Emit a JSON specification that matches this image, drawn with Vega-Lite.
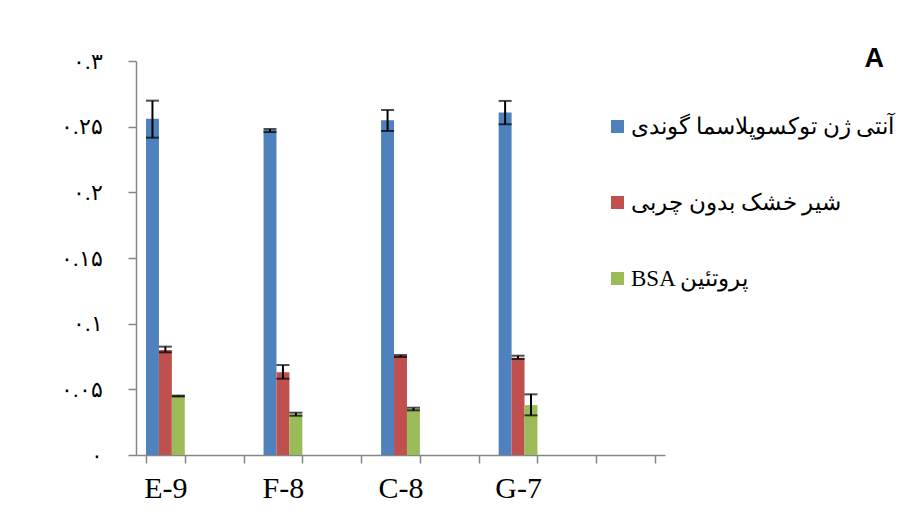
{
  "$schema": "https://vega.github.io/schema/vega-lite/v6.json",
  "width": 529,
  "height": 394,
  "autosize": {"type": "none"},
  "padding": {"left": 136, "top": 61, "right": 242, "bottom": 65},
  "background": "white",
  "title": {
    "text": "A",
    "anchor": "end",
    "frame": "group",
    "font": "Liberation Sans",
    "fontSize": 27,
    "fontWeight": "bold",
    "color": "black",
    "baseline": "alphabetic",
    "offset": 0,
    "dx": 219,
    "dy": 44
  },
  "config": {
    "view": {"stroke": null},
    "axis": {"grid": false, "domainColor": "#868686", "tickColor": "#868686", "labelColor": "black", "domainWidth": 1.5, "tickWidth": 1.5}
  },
  "data": {
    "values": [
      {"g": "E-9", "s": "آنتی ژن توکسوپلاسما گوندی", "v": 0.256, "lo": 0.2416, "hi": 0.2698},
      {"g": "E-9", "s": "شیر خشک بدون چربی", "v": 0.080, "lo": 0.0782, "hi": 0.0825},
      {"g": "E-9", "s": "BSA پروتئین", "v": 0.0449, "lo": 0.0446, "hi": 0.0452},
      {"g": "F-8", "s": "آنتی ژن توکسوپلاسما گوندی", "v": 0.2475, "lo": 0.2459, "hi": 0.2482},
      {"g": "F-8", "s": "شیر خشک بدون چربی", "v": 0.063, "lo": 0.0581, "hi": 0.0685},
      {"g": "F-8", "s": "BSA پروتئین", "v": 0.031, "lo": 0.0299, "hi": 0.0322},
      {"g": "C-8", "s": "آنتی ژن توکسوپلاسما گوندی", "v": 0.2548, "lo": 0.2467, "hi": 0.2627},
      {"g": "C-8", "s": "شیر خشک بدون چربی", "v": 0.0754, "lo": 0.0746, "hi": 0.0761},
      {"g": "C-8", "s": "BSA پروتئین", "v": 0.035, "lo": 0.034, "hi": 0.036},
      {"g": "G-7", "s": "آنتی ژن توکسوپلاسما گوندی", "v": 0.2607, "lo": 0.2518, "hi": 0.2696},
      {"g": "G-7", "s": "شیر خشک بدون چربی", "v": 0.0741, "lo": 0.0731, "hi": 0.0756},
      {"g": "G-7", "s": "BSA پروتئین", "v": 0.038, "lo": 0.0302, "hi": 0.0462}
    ]
  },
  "encoding": {
    "x": {
      "field": "g",
      "type": "nominal",
      "title": null,
      "scale": {"domain": ["E-9", " ", "F-8", "  ", "C-8", "   ", "G-7", "    ", "     "], "paddingInner": 0.34, "paddingOuter": 0.17},
      "axis": {"labelAngle": 0, "tickBand": "extent", "tickSize": 8, "labelFont": "Liberation Serif", "labelFontSize": 30, "labelPadding": 10}
    },
    "xOffset": {
      "field": "s",
      "type": "nominal",
      "scale": {"domain": ["آنتی ژن توکسوپلاسما گوندی", "شیر خشک بدون چربی", "BSA پروتئین"]}
    }
  },
  "layer": [
    {
      "mark": {"type": "bar"},
      "encoding": {
        "y": {
          "field": "v",
          "type": "quantitative",
          "title": null,
          "scale": {"domain": [0, 0.3], "nice": false},
          "axis": {
            "values": [0, 0.05, 0.1, 0.15, 0.2, 0.25, 0.3],
            "format": ".2~f",
            "labelExpr": "replace(replace(replace(replace(replace(replace(datum.label, regexp('0','g'), '۰'), regexp('1','g'), '۱'), regexp('2','g'), '۲'), regexp('3','g'), '۳'), regexp('5','g'), '۵'), regexp('4','g'), '۴')",
            "tickSize": 8,
            "labelPadding": 26,
            "labelFont": "Liberation Serif",
            "labelFontSize": 22
          }
        },
        "color": {
          "field": "s",
          "type": "nominal",
          "scale": {"domain": ["آنتی ژن توکسوپلاسما گوندی", "شیر خشک بدون چربی", "BSA پروتئین"], "range": ["#4F81BD", "#C0504D", "#9BBB59"]},
          "legend": {
            "orient": "none",
            "legendX": 470,
            "legendY": 54,
            "title": null,
            "symbolType": "square",
            "symbolSize": 169,
            "symbolStrokeWidth": 0,
            "labelFont": "Liberation Serif",
            "labelFontSize": 23,
            "labelColor": "black",
            "labelLimit": 500,
            "labelOffset": 2,
            "rowPadding": 52
          }
        }
      }
    },
    {
      "mark": {"type": "rule", "color": "black", "strokeWidth": 2},
      "encoding": {
        "y": {"field": "lo", "type": "quantitative"},
        "y2": {"field": "hi"}
      }
    },
    {
      "mark": {"type": "tick", "color": "black", "thickness": 2, "size": 13},
      "encoding": {"y": {"field": "lo", "type": "quantitative"}}
    },
    {
      "mark": {"type": "tick", "color": "black", "thickness": 2, "size": 13},
      "encoding": {"y": {"field": "hi", "type": "quantitative"}}
    }
  ]
}
